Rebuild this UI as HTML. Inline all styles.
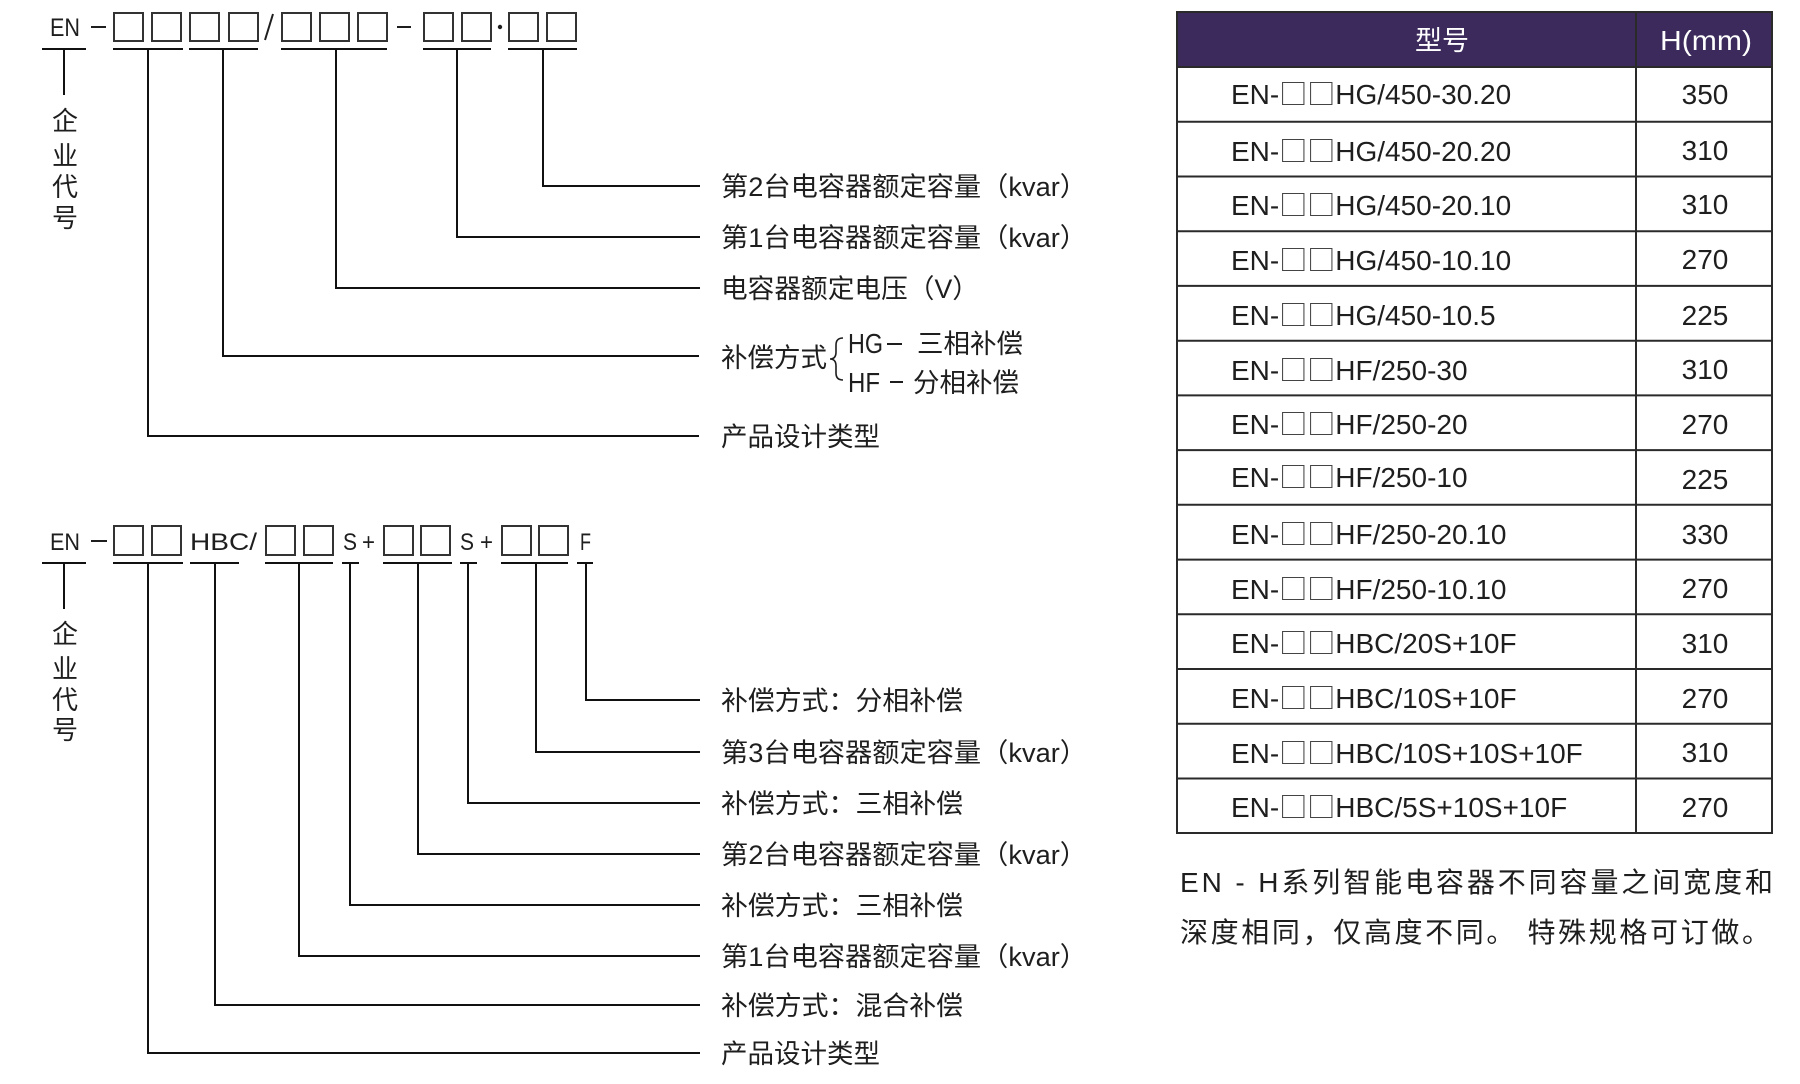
<!DOCTYPE html>
<html>
<head>
<meta charset="utf-8">
<style>
  html,body{margin:0;padding:0;background:#fff;}
  svg{display:block;}
</style>
</head>
<body>
<svg width="1800" height="1084" viewBox="0 0 1800 1084" xmlns="http://www.w3.org/2000/svg" font-family="'Liberation Sans','Noto Sans CJK SC',sans-serif">
  <rect width="1800" height="1084" fill="#fff"/>

  <!-- ================= TOP DIAGRAM ================= -->
  <g fill="#1e1e1e">
    <text x="50" y="36" font-size="25" textLength="30" lengthAdjust="spacingAndGlyphs">EN</text>
  </g>
  <g stroke="#1e1e1e" stroke-width="2" fill="none">
    <line x1="91" y1="27" x2="106" y2="27"/>
    <line x1="273" y1="14" x2="265" y2="40"/>
    <line x1="397" y1="27" x2="411" y2="27"/>
  </g>
  <circle cx="500" cy="27" r="2.2" fill="#1e1e1e"/>
  <g stroke="#333" stroke-width="2" fill="none">
    <rect x="114" y="13" width="29" height="28"/>
    <rect x="152" y="13" width="29" height="28"/>
    <rect x="190" y="13" width="29" height="28"/>
    <rect x="229" y="13" width="29" height="28"/>
    <rect x="282" y="13" width="29" height="28"/>
    <rect x="320" y="13" width="29" height="28"/>
    <rect x="358" y="13" width="29" height="28"/>
    <rect x="424" y="13" width="29" height="28"/>
    <rect x="462" y="13" width="29" height="28"/>
    <rect x="509" y="13" width="29" height="28"/>
    <rect x="547" y="13" width="29" height="28"/>
  </g>
  <g stroke="#111" stroke-width="2" fill="none">
    <line x1="42" y1="49" x2="86" y2="49"/>
    <line x1="113" y1="49" x2="183" y2="49"/>
    <line x1="189" y1="49" x2="258" y2="49"/>
    <line x1="281" y1="49" x2="387" y2="49"/>
    <line x1="423" y1="49" x2="491" y2="49"/>
    <line x1="508" y1="49" x2="577" y2="49"/>
    <line x1="64" y1="49" x2="64" y2="95"/>
    <polyline points="543,49 543,186 700,186"/>
    <polyline points="457,49 457,237 700,237"/>
    <polyline points="336,49 336,288 700,288"/>
    <polyline points="223,49 223,356 699,356"/>
    <polyline points="148,49 148,436 699,436"/>
  </g>
  <g fill="#1e1e1e" font-size="26" text-anchor="middle">
    <text x="65" y="130">企</text>
    <text x="65" y="165">业</text>
    <text x="65" y="196">代</text>
    <text x="65" y="227">号</text>
  </g>
  <g fill="#1e1e1e" font-size="26.5">
    <text x="721" y="196" textLength="366" lengthAdjust="spacingAndGlyphs">第2台电容器额定容量（kvar）</text>
    <text x="721" y="247" textLength="366" lengthAdjust="spacingAndGlyphs">第1台电容器额定容量（kvar）</text>
    <text x="721" y="298" textLength="258" lengthAdjust="spacingAndGlyphs">电容器额定电压（V）</text>
    <text x="721" y="367">补偿方式</text>
    <text x="721" y="446">产品设计类型</text>
    <text x="848" y="353" font-size="28" textLength="35" lengthAdjust="spacingAndGlyphs">HG</text>
    <text x="917" y="353">三相补偿</text>
    <text x="848" y="392" font-size="28" textLength="32" lengthAdjust="spacingAndGlyphs">HF</text>
    <text x="913" y="392">分相补偿</text>
  </g>
  <g stroke="#1e1e1e" stroke-width="2" fill="none">
    <line x1="887" y1="344" x2="902" y2="344"/>
    <line x1="890" y1="382" x2="903" y2="382"/>
  </g>
  <path d="M843,338 Q836,338 836,345 L836,352 Q836,359 830,359 Q836,359 836,366 L836,373 Q836,380 843,380" stroke="#1e1e1e" stroke-width="1.6" fill="none"/>

  <!-- ================= BOTTOM DIAGRAM ================= -->
  <g fill="#1e1e1e" font-size="24">
    <text x="50" y="550" textLength="30" lengthAdjust="spacingAndGlyphs">EN</text>
    <text x="190" y="550" textLength="67" lengthAdjust="spacingAndGlyphs">HBC/</text>
    <text x="343" y="550" textLength="14" lengthAdjust="spacingAndGlyphs">S</text>
    <text x="362" y="550" textLength="13" lengthAdjust="spacingAndGlyphs">+</text>
    <text x="460" y="550" textLength="14" lengthAdjust="spacingAndGlyphs">S</text>
    <text x="480" y="550" textLength="13" lengthAdjust="spacingAndGlyphs">+</text>
    <text x="580" y="550" textLength="11" lengthAdjust="spacingAndGlyphs">F</text>
  </g>
  <line x1="91" y1="541" x2="107" y2="541" stroke="#1e1e1e" stroke-width="2"/>
  <g stroke="#333" stroke-width="2" fill="none">
    <rect x="114" y="526" width="29" height="29"/>
    <rect x="152" y="526" width="29" height="29"/>
    <rect x="266" y="526" width="29" height="29"/>
    <rect x="304" y="526" width="29" height="29"/>
    <rect x="384" y="526" width="29" height="29"/>
    <rect x="421" y="526" width="29" height="29"/>
    <rect x="502" y="526" width="29" height="29"/>
    <rect x="539" y="526" width="29" height="29"/>
  </g>
  <g stroke="#111" stroke-width="2" fill="none">
    <line x1="42" y1="563" x2="86" y2="563"/>
    <line x1="113" y1="563" x2="183" y2="563"/>
    <line x1="190" y1="563" x2="239" y2="563"/>
    <line x1="265" y1="563" x2="333" y2="563"/>
    <line x1="342" y1="563" x2="359" y2="563"/>
    <line x1="383" y1="563" x2="452" y2="563"/>
    <line x1="460" y1="563" x2="477" y2="563"/>
    <line x1="501" y1="563" x2="568" y2="563"/>
    <line x1="577" y1="563" x2="593" y2="563"/>
    <line x1="64" y1="563" x2="64" y2="609"/>
    <polyline points="586,563 586,700 700,700"/>
    <polyline points="536,563 536,752 700,752"/>
    <polyline points="468,563 468,803 700,803"/>
    <polyline points="418,563 418,854 700,854"/>
    <polyline points="350,563 350,905 700,905"/>
    <polyline points="299,563 299,956 700,956"/>
    <polyline points="215,563 215,1005 700,1005"/>
    <polyline points="148,563 148,1053 700,1053"/>
  </g>
  <g fill="#1e1e1e" font-size="26" text-anchor="middle">
    <text x="65" y="643">企</text>
    <text x="65" y="678">业</text>
    <text x="65" y="709">代</text>
    <text x="65" y="739">号</text>
  </g>
  <g fill="#1e1e1e" font-size="26.5">
    <text x="721" y="710" textLength="242" lengthAdjust="spacingAndGlyphs">补偿方式：分相补偿</text>
    <text x="721" y="762" textLength="366" lengthAdjust="spacingAndGlyphs">第3台电容器额定容量（kvar）</text>
    <text x="721" y="813" textLength="242" lengthAdjust="spacingAndGlyphs">补偿方式：三相补偿</text>
    <text x="721" y="864" textLength="366" lengthAdjust="spacingAndGlyphs">第2台电容器额定容量（kvar）</text>
    <text x="721" y="915" textLength="242" lengthAdjust="spacingAndGlyphs">补偿方式：三相补偿</text>
    <text x="721" y="966" textLength="366" lengthAdjust="spacingAndGlyphs">第1台电容器额定容量（kvar）</text>
    <text x="721" y="1015" textLength="242" lengthAdjust="spacingAndGlyphs">补偿方式：混合补偿</text>
    <text x="721" y="1063">产品设计类型</text>
  </g>

  <!-- ================= TABLE ================= -->
  <rect x="1177" y="12" width="595" height="55" fill="#3b2a5b"/>
  <g fill="#fff" font-size="27" text-anchor="middle">
    <text x="1442" y="50">型号</text>
    <text x="1706" y="50" font-size="28" textLength="92" lengthAdjust="spacingAndGlyphs">H(mm)</text>
  </g>
  <g stroke="#2a2a2a" stroke-width="2" fill="none">
    <rect x="1177" y="12" width="595" height="821"/>
    <line x1="1636" y1="12" x2="1636" y2="833"/>
    <line x1="1177" y1="67" x2="1772" y2="67"/>
    <line x1="1177" y1="121.7" x2="1772" y2="121.7"/>
    <line x1="1177" y1="176.5" x2="1772" y2="176.5"/>
    <line x1="1177" y1="231.2" x2="1772" y2="231.2"/>
    <line x1="1177" y1="285.9" x2="1772" y2="285.9"/>
    <line x1="1177" y1="340.7" x2="1772" y2="340.7"/>
    <line x1="1177" y1="395.4" x2="1772" y2="395.4"/>
    <line x1="1177" y1="450.1" x2="1772" y2="450.1"/>
    <line x1="1177" y1="504.8" x2="1772" y2="504.8"/>
    <line x1="1177" y1="559.6" x2="1772" y2="559.6"/>
    <line x1="1177" y1="614.3" x2="1772" y2="614.3"/>
    <line x1="1177" y1="669" x2="1772" y2="669"/>
    <line x1="1177" y1="723.8" x2="1772" y2="723.8"/>
    <line x1="1177" y1="778.5" x2="1772" y2="778.5"/>
  </g>
  <g fill="#1e1e1e" font-size="28">
    <text x="1231" y="104">EN-<tspan font-family="'Noto Sans CJK SC',sans-serif" fill="#444">□□</tspan>HG/450-30.20</text>
    <text x="1231" y="161">EN-<tspan font-family="'Noto Sans CJK SC',sans-serif" fill="#444">□□</tspan>HG/450-20.20</text>
    <text x="1231" y="215">EN-<tspan font-family="'Noto Sans CJK SC',sans-serif" fill="#444">□□</tspan>HG/450-20.10</text>
    <text x="1231" y="270">EN-<tspan font-family="'Noto Sans CJK SC',sans-serif" fill="#444">□□</tspan>HG/450-10.10</text>
    <text x="1231" y="325">EN-<tspan font-family="'Noto Sans CJK SC',sans-serif" fill="#444">□□</tspan>HG/450-10.5</text>
    <text x="1231" y="380">EN-<tspan font-family="'Noto Sans CJK SC',sans-serif" fill="#444">□□</tspan>HF/250-30</text>
    <text x="1231" y="434">EN-<tspan font-family="'Noto Sans CJK SC',sans-serif" fill="#444">□□</tspan>HF/250-20</text>
    <text x="1231" y="487">EN-<tspan font-family="'Noto Sans CJK SC',sans-serif" fill="#444">□□</tspan>HF/250-10</text>
    <text x="1231" y="544">EN-<tspan font-family="'Noto Sans CJK SC',sans-serif" fill="#444">□□</tspan>HF/250-20.10</text>
    <text x="1231" y="599">EN-<tspan font-family="'Noto Sans CJK SC',sans-serif" fill="#444">□□</tspan>HF/250-10.10</text>
    <text x="1231" y="653">EN-<tspan font-family="'Noto Sans CJK SC',sans-serif" fill="#444">□□</tspan>HBC/20S+10F</text>
    <text x="1231" y="708">EN-<tspan font-family="'Noto Sans CJK SC',sans-serif" fill="#444">□□</tspan>HBC/10S+10F</text>
    <text x="1231" y="763">EN-<tspan font-family="'Noto Sans CJK SC',sans-serif" fill="#444">□□</tspan>HBC/10S+10S+10F</text>
    <text x="1231" y="817">EN-<tspan font-family="'Noto Sans CJK SC',sans-serif" fill="#444">□□</tspan>HBC/5S+10S+10F</text>
  </g>
  <g fill="#1e1e1e" font-size="28" text-anchor="middle">
    <text x="1705" y="104">350</text>
    <text x="1705" y="160">310</text>
    <text x="1705" y="214">310</text>
    <text x="1705" y="269">270</text>
    <text x="1705" y="325">225</text>
    <text x="1705" y="379">310</text>
    <text x="1705" y="434">270</text>
    <text x="1705" y="489">225</text>
    <text x="1705" y="544">330</text>
    <text x="1705" y="598">270</text>
    <text x="1705" y="653">310</text>
    <text x="1705" y="708">270</text>
    <text x="1705" y="762">310</text>
    <text x="1705" y="817">270</text>
  </g>

  <!-- ================= NOTE ================= -->
  <g fill="#1e1e1e" font-size="28">
    <text x="1180" y="892" textLength="593" lengthAdjust="spacing">EN - H系列智能电容器不同容量之间宽度和</text>
    <text x="1180" y="942" textLength="590" lengthAdjust="spacing">深度相同，仅高度不同。 特殊规格可订做。</text>
  </g>
</svg>
</body>
</html>
